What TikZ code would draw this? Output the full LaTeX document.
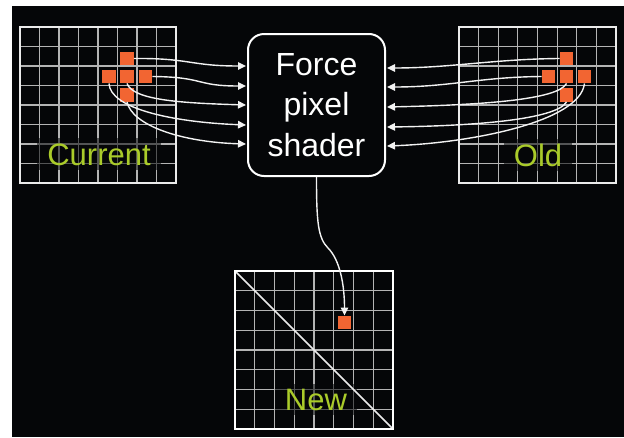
\documentclass[tikz,border=0pt]{standalone}
\usepackage{fontspec}
\setmainfont{Liberation Sans}
\usetikzlibrary{arrows.meta}
\definecolor{bg}{HTML}{050608}
\definecolor{pix}{HTML}{F26532}
\definecolor{lbl}{HTML}{AACB2A}
\definecolor{gl}{HTML}{B4B4B4}
\begin{document}
\begin{tikzpicture}[x=1pt,y=-1pt,
  gridline/.style={gl,line width=1.1pt},
  gridborder/.style={white!92!black,line width=1.5pt},
  pixsq/.style={fill=pix,draw=none,minimum size=13.5pt,inner sep=0pt},
  shaderbox/.style={draw=white,line width=2pt,fill=bg,rounded corners=16pt,minimum width=137pt,minimum height=142pt,inner sep=0pt,align=center,text=white,font=\fontsize{32}{40.5}\selectfont},
  gridcaption/.style={text=lbl,font=\fontsize{31}{31}\selectfont,anchor=base,inner xsep=10pt,inner ysep=5pt,fill=bg,fill opacity=0.55,text opacity=1},
  feed/.style={white!95!black,line width=1.4pt,-{Triangle[length=8pt,width=7.5pt]}},
]
\useasboundingbox (0,0) rectangle (624,437);
\fill[bg] (12,6) rectangle (624,437);

% Current grid
\begin{scope}[shift={(20,27)}]
  \foreach \i in {1,...,7} {
    \draw[gridline] (\i*19.5,0) -- (\i*19.5,156);
    \draw[gridline] (0,\i*19.5) -- (156,\i*19.5);
  }
\end{scope}
% Old grid
\begin{scope}[shift={(459,27)}]
  \foreach \i in {1,...,7} {
    \draw[gridline] (\i*19.625,0) -- (\i*19.625,157);
    \draw[gridline] (0,\i*19.5) -- (157,\i*19.5);
  }
\end{scope}
% New grid
\begin{scope}[shift={(235,271)}]
  \foreach \i in {1,...,7} {
    \draw[gridline] (\i*19.75,0) -- (\i*19.75,158);
    \draw[gridline] (0,\i*19.75) -- (158,\i*19.75);
  }
\end{scope}

\node[gridcaption] (cur) at (99,165) {Current};
\node[gridcaption] (old) at (538,166) {Old};
\node[gridcaption] (new) at (316,410) {New};

\draw[gridborder] (20,27) rectangle (176,183);
\draw[gridborder] (459,27) rectangle (616,183);
\draw[gridborder] (235,271) -- (393,429);
\draw[white,line width=2pt] (235,271) rectangle (393,429);

% pixels
\node[pixsq] (ct) at (127,58.5) {};
\node[pixsq] (cl) at (109,76.5) {};
\node[pixsq] (cc) at (127,76.5) {};
\node[pixsq] (cr) at (145.5,76.5) {};
\node[pixsq] (cb) at (127,95) {};
\node[pixsq] (ot) at (566.5,58.5) {};
\node[pixsq] (ol) at (548.5,76.5) {};
\node[pixsq] (oc) at (566.5,76.5) {};
\node[pixsq] (or) at (584.5,76.5) {};
\node[pixsq] (ob) at (566.5,95) {};
\node[pixsq] (ns) at (344.5,322.5) {};

\node[shaderbox] (fs) at (316.5,105) {Force\\pixel\\shader};

\coordinate (L1) at (246,66);
\coordinate (L2) at (246,86);
\coordinate (L3) at (246,105);
\coordinate (L4) at (246,125);
\coordinate (L5) at (246,144);
\coordinate (R1) at (387,68);
\coordinate (R2) at (387,87);
\coordinate (R3) at (387,107);
\coordinate (R4) at (387,127);
\coordinate (R5) at (387,146);

\draw[feed] (ct.east) .. controls (190,58) and (190,66) .. (L1);
\draw[feed] (cr.east) .. controls (205,77) and (195,86) .. (L2);
\draw[feed] (cc.south) .. controls (133,100) and (180,103) .. (L3);
\draw[feed] (cl.south) .. controls (110,108) and (170,122) .. (L4);
\draw[feed] (cb.south) .. controls (132,125) and (180,142) .. (L5);

\draw[feed] (ot.west) .. controls (495,59) and (450,68) .. (R1);
\draw[feed] (ol.west) .. controls (480,77) and (450,87) .. (R2);
\draw[feed] (oc.south) .. controls (558,100) and (480,105) .. (R3);
\draw[feed] (ob.south) .. controls (556,120) and (470,126) .. (R4);
\draw[feed] (or.south) .. controls (580,122) and (470,143) .. (R5);

\draw[feed] (fs.south) .. controls (316.5,222) and (318,238) .. (328,248) .. controls (340,260) and (344.5,285) .. (ns.north);
\end{tikzpicture}
\end{document}
